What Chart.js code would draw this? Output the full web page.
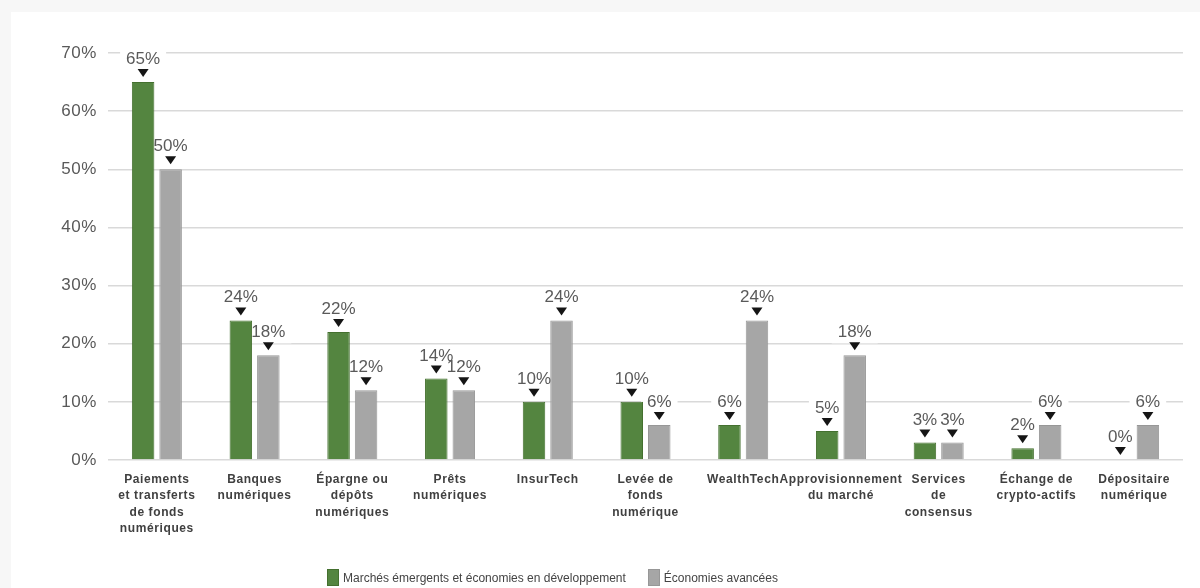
<!DOCTYPE html>
<html>
<head>
<meta charset="utf-8">
<script src="https://cdn.jsdelivr.net/npm/chart.js@4.4.0/dist/chart.umd.min.js"></script>
<style>
    body {
        margin: 0;
        width: 1200px;
        height: 588px;
        overflow: hidden;
        position: relative;
        background: #f7f7f7;
        font-family: 'Liberation Sans', Arial, sans-serif;
    }
    .panel {
        position: absolute;
        left: 11px;
        top: 12px;
        width: 1189px;
        height: 576px;
        background: #fff;
    }
    .legend {
        position: absolute;
        left: 316px;
        top: 557px;
        display: flex;
        align-items: center;
        font-size: 12px;
        line-height: 16px;
        color: #444;
    }
    .legend .item { display: flex; align-items: center; }
    .legend .item + .item { margin-left: 22px; }
    .legend .swatch { width: 12px; height: 17px; margin-right: 4px; box-sizing: border-box; border: 1px solid; }
</style>
</head>
<body>
<div class="panel">
    <canvas id="fintechChart"></canvas>
    <div class="legend" id="legend"></div>
</div>
<script>
    var categories = [
        ['Paiements', 'et transferts', 'de fonds', 'numériques'],
        ['Banques', 'numériques'],
        ['Épargne ou', 'dépôts', 'numériques'],
        ['Prêts', 'numériques'],
        ['InsurTech'],
        ['Levée de', 'fonds', 'numérique'],
        ['WealthTech'],
        ['Approvisionnement', 'du marché'],
        ['Services', 'de', 'consensus'],
        ['Échange de', 'crypto-actifs'],
        ['Dépositaire', 'numérique']
    ];
    var emergingMarkets = [65, 24, 22, 14, 10, 10, 6, 5, 3, 2, 0];
    var advancedEconomies = [50, 18, 12, 12, 24, 6, 24, 18, 3, 6, 6];
    var seriesNames = ['Marchés émergents et économies en développement', 'Économies avancées'];
    var yTicks = [0, 10, 20, 30, 40, 50, 60, 70];

    var greenFill = '#548540', greenEdge = '#44702f';
    var greyFill = '#a6a6a6', greyEdge = '#979797';

    // canvas text on the axes is slightly spaced out
    var letterSpacing = {
        id: 'letterSpacing',
        beforeDraw: function (chart) {
            chart.ctx.letterSpacing = '0.6px';
        }
    };

    // value label above each bar: white box, percentage text and a small down arrow
    function labelGeometry(el) {
        var tip = el.y - 5;
        var triTop = tip - 8;
        return { x: el.x, tip: tip, triTop: triTop, baseline: triTop - 5 };
    }

    var valueLabels = {
        id: 'valueLabels',
        beforeDatasetsDraw: function (chart) {
            var ctx = chart.ctx;
            ctx.save();
            ctx.letterSpacing = '0px';
            ctx.font = "17px 'Liberation Sans', Arial, sans-serif";
            ctx.fillStyle = '#ffffff';
            chart.data.datasets.forEach(function (ds, i) {
                chart.getDatasetMeta(i).data.forEach(function (el, j) {
                    var g = labelGeometry(el);
                    var w = ctx.measureText(ds.data[j] + '%').width;
                    ctx.fillRect(g.x - w / 2 - 6, g.baseline - 15, w + 12, 21);
                });
            });
            ctx.restore();
        },
        afterDatasetsDraw: function (chart) {
            var ctx = chart.ctx;
            ctx.save();
            ctx.letterSpacing = '0px';
            ctx.font = "17px 'Liberation Sans', Arial, sans-serif";
            ctx.textAlign = 'center';
            ctx.textBaseline = 'alphabetic';
            chart.data.datasets.forEach(function (ds, i) {
                chart.getDatasetMeta(i).data.forEach(function (el, j) {
                    var g = labelGeometry(el);
                    ctx.fillStyle = '#5a5a5a';
                    ctx.fillText(ds.data[j] + '%', g.x, g.baseline);
                    ctx.fillStyle = '#151515';
                    ctx.beginPath();
                    ctx.moveTo(g.x - 5.5, g.triTop);
                    ctx.lineTo(g.x + 5.5, g.triTop);
                    ctx.lineTo(g.x, g.tip);
                    ctx.closePath();
                    ctx.fill();
                });
            });
            ctx.restore();
        }
    };

    var datasets = [
        { label: seriesNames[0], data: emergingMarkets, backgroundColor: greenFill, borderColor: greenEdge },
        { label: seriesNames[1], data: advancedEconomies, backgroundColor: greyFill, borderColor: greyEdge }
    ];
    datasets.forEach(function (ds) {
        ds.borderWidth = 1;
        ds.categoryPercentage = 0.563;
        ds.barPercentage = 0.818;
    });

    var ctx = document.getElementById('fintechChart').getContext('2d');
    new Chart(ctx, {
        type: 'bar',
        data: { labels: categories, datasets: datasets },
        options: {
            responsive: true,
            maintainAspectRatio: false,
            animation: false,
            layout: { padding: { top: 41, right: 17, left: 0, bottom: 0 } },
            plugins: {
                legend: { display: false },
                tooltip: { enabled: false }
            },
            scales: {
                x: {
                    grid: { display: false, drawTicks: false },
                    border: { display: false },
                    ticks: {
                        autoSkip: false,
                        maxRotation: 0,
                        minRotation: 0,
                        padding: 12,
                        color: '#404040',
                        font: { family: "'Liberation Sans', Arial, sans-serif", size: 12, weight: 'bold', lineHeight: 1.34 }
                    },
                    afterFit: function (scale) { scale.height = 128; }
                },
                y: {
                    min: yTicks[0],
                    max: yTicks[yTicks.length - 1],
                    afterBuildTicks: function (scale) {
                        scale.ticks = yTicks.map(function (v) { return { value: v }; });
                    },
                    grid: { color: '#d9d9d9', lineWidth: 1.5, drawTicks: false },
                    border: { display: false },
                    ticks: {
                        padding: 11,
                        color: '#595959',
                        font: { family: "'Liberation Sans', Arial, sans-serif", size: 17 },
                        callback: function (v) { return v + '%'; }
                    },
                    afterFit: function (scale) { scale.width = 97; }
                }
            }
        },
        plugins: [letterSpacing, valueLabels]
    });

    // legend below the chart
    var legend = document.getElementById('legend');
    datasets.forEach(function (ds) {
        var item = document.createElement('div');
        item.className = 'item';
        var sw = document.createElement('span');
        sw.className = 'swatch';
        sw.style.background = ds.backgroundColor;
        sw.style.borderColor = ds.borderColor;
        var txt = document.createElement('span');
        txt.textContent = ds.label;
        item.appendChild(sw);
        item.appendChild(txt);
        legend.appendChild(item);
    });
</script>
</body>
</html>
